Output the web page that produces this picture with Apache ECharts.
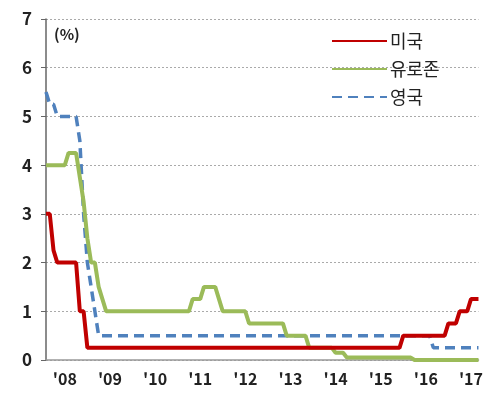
<!DOCTYPE html>
<html>
<head>
<meta charset="utf-8">
<script src="https://cdn.jsdelivr.net/npm/echarts@6/dist/echarts.min.js"></script>
<style>
    html, body { margin: 0; padding: 0; background: #fff; }
    #chart { width: 486px; height: 400px; }
</style>
</head>
<body>
<div id="chart"></div>
<script>
    // monthly, Jan 2008 .. Aug 2017
    const years = [2008, 2009, 2010, 2011, 2012, 2013, 2014, 2015, 2016, 2017];
    const lastYearMonths = 8;

    const usRate = [
        3, 3, 2.25, 2, 2, 2, 2, 2, 2, 1, 1, 0.25,
        0.25, 0.25, 0.25, 0.25, 0.25, 0.25, 0.25, 0.25, 0.25, 0.25, 0.25, 0.25,
        0.25, 0.25, 0.25, 0.25, 0.25, 0.25, 0.25, 0.25, 0.25, 0.25, 0.25, 0.25,
        0.25, 0.25, 0.25, 0.25, 0.25, 0.25, 0.25, 0.25, 0.25, 0.25, 0.25, 0.25,
        0.25, 0.25, 0.25, 0.25, 0.25, 0.25, 0.25, 0.25, 0.25, 0.25, 0.25, 0.25,
        0.25, 0.25, 0.25, 0.25, 0.25, 0.25, 0.25, 0.25, 0.25, 0.25, 0.25, 0.25,
        0.25, 0.25, 0.25, 0.25, 0.25, 0.25, 0.25, 0.25, 0.25, 0.25, 0.25, 0.25,
        0.25, 0.25, 0.25, 0.25, 0.25, 0.25, 0.25, 0.25, 0.25, 0.25, 0.25, 0.5,
        0.5, 0.5, 0.5, 0.5, 0.5, 0.5, 0.5, 0.5, 0.5, 0.5, 0.5, 0.75,
        0.75, 0.75, 1, 1, 1, 1.25, 1.25, 1.25
    ];
    const euroRate = [
        4, 4, 4, 4, 4, 4, 4.25, 4.25, 4.25, 3.75, 3.25, 2.5,
        2, 2, 1.5, 1.25, 1, 1, 1, 1, 1, 1, 1, 1,
        1, 1, 1, 1, 1, 1, 1, 1, 1, 1, 1, 1,
        1, 1, 1, 1.25, 1.25, 1.25, 1.5, 1.5, 1.5, 1.5, 1.25, 1,
        1, 1, 1, 1, 1, 1, 0.75, 0.75, 0.75, 0.75, 0.75, 0.75,
        0.75, 0.75, 0.75, 0.75, 0.5, 0.5, 0.5, 0.5, 0.5, 0.5, 0.25, 0.25,
        0.25, 0.25, 0.25, 0.25, 0.25, 0.15, 0.15, 0.15, 0.05, 0.05, 0.05, 0.05,
        0.05, 0.05, 0.05, 0.05, 0.05, 0.05, 0.05, 0.05, 0.05, 0.05, 0.05, 0.05,
        0.05, 0.05, 0, 0, 0, 0, 0, 0, 0, 0, 0, 0,
        0, 0, 0, 0, 0, 0, 0, 0
    ];
    const ukRate = [
        5.5, 5.25, 5.25, 5, 5, 5, 5, 5, 5, 4.5, 3, 2,
        1.5, 1, 0.5, 0.5, 0.5, 0.5, 0.5, 0.5, 0.5, 0.5, 0.5, 0.5,
        0.5, 0.5, 0.5, 0.5, 0.5, 0.5, 0.5, 0.5, 0.5, 0.5, 0.5, 0.5,
        0.5, 0.5, 0.5, 0.5, 0.5, 0.5, 0.5, 0.5, 0.5, 0.5, 0.5, 0.5,
        0.5, 0.5, 0.5, 0.5, 0.5, 0.5, 0.5, 0.5, 0.5, 0.5, 0.5, 0.5,
        0.5, 0.5, 0.5, 0.5, 0.5, 0.5, 0.5, 0.5, 0.5, 0.5, 0.5, 0.5,
        0.5, 0.5, 0.5, 0.5, 0.5, 0.5, 0.5, 0.5, 0.5, 0.5, 0.5, 0.5,
        0.5, 0.5, 0.5, 0.5, 0.5, 0.5, 0.5, 0.5, 0.5, 0.5, 0.5, 0.5,
        0.5, 0.5, 0.5, 0.5, 0.5, 0.5, 0.5, 0.25, 0.25, 0.25, 0.25, 0.25,
        0.25, 0.25, 0.25, 0.25, 0.25, 0.25, 0.25, 0.25
    ];
    const seriesNames = ['미국', '유로존', '영국'];

    const months = [];
    years.forEach(function (y, i) {
        const n = i === years.length - 1 ? lastYearMonths : 12;
        for (let m = 1; m <= n; m++) {
            months.push(y + '-' + (m < 10 ? '0' + m : m));
        }
    });

    const font = '"Noto Sans CJK KR", "Noto Sans", sans-serif';
    const chart = echarts.init(document.getElementById('chart'));
    chart.setOption({
        animation: false,
        textStyle: { fontFamily: font },
        grid: { left: 46, right: 2, top: 19, bottom: 40 },
        title: {
            text: '(%)',
            left: 49,
            top: 22,
            textStyle: { fontSize: 15, fontWeight: 'bold', color: '#222', fontFamily: font }
        },
        legend: {
            orient: 'vertical',
            left: 326,
            top: 27,
            itemWidth: 55,
            itemHeight: 14,
            itemGap: 10,
            data: seriesNames,
            itemStyle: { opacity: 0 },
            textStyle: { fontSize: 18, color: '#222', fontFamily: font, padding: [0, 0, 0, -2] }
        },
        xAxis: {
            type: 'category',
            data: months,
            boundaryGap: false,
            axisLine: { lineStyle: { color: '#999', width: 1.5 } },
            axisTick: { show: false },
            splitLine: { show: false },
            axisLabel: {
                interval: function (idx) { return idx % 12 === 5; },
                formatter: function (v) { return "'" + v.slice(2, 4); },
                margin: 11,
                fontSize: 16,
                fontWeight: 'bold',
                color: '#222',
                fontFamily: font
            }
        },
        yAxis: {
            type: 'value',
            min: 0,
            max: 7,
            interval: 1,
            axisLine: { show: true, lineStyle: { color: '#666', width: 1.5 } },
            axisTick: { show: true, length: 5, lineStyle: { color: '#666' } },
            splitLine: { show: true, lineStyle: { color: '#aaa', type: [2, 2] } },
            axisLabel: {
                margin: 14,
                fontSize: 17,
                fontWeight: 'bold',
                color: '#222',
                fontFamily: font
            }
        },
        series: [
            {
                name: seriesNames[0],
                type: 'line',
                data: usRate,
                symbol: 'none',
                z: 4,
                lineStyle: { color: '#C00000', width: 4 },
                itemStyle: { color: '#C00000' }
            },
            {
                name: seriesNames[1],
                type: 'line',
                data: euroRate,
                symbol: 'none',
                z: 3,
                lineStyle: { color: '#9BBB59', width: 4 },
                itemStyle: { color: '#9BBB59' }
            },
            {
                name: seriesNames[2],
                type: 'line',
                data: ukRate,
                symbol: 'none',
                z: 2,
                lineStyle: { color: '#4F81BD', width: 3.5, type: [10, 6] },
                itemStyle: { color: '#4F81BD' }
            }
        ]
    });
</script>
</body>
</html>
